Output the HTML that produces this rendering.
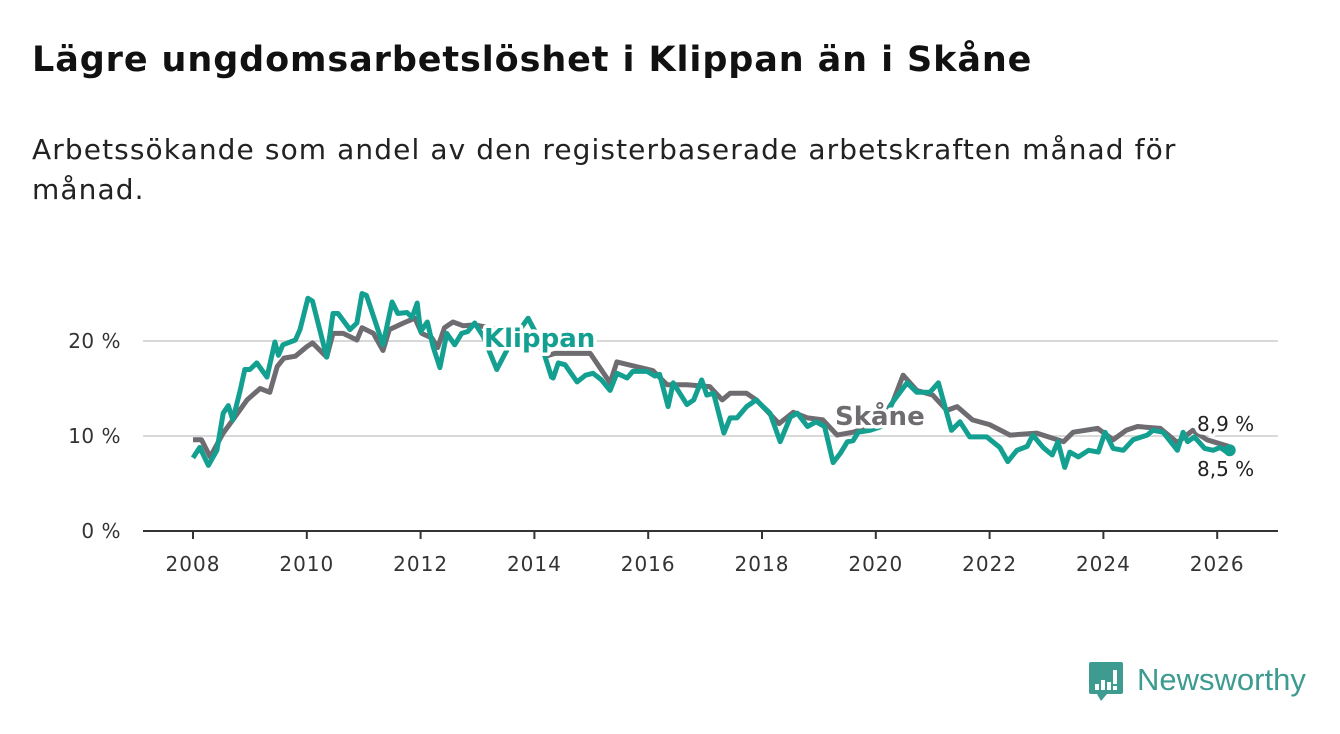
<!DOCTYPE html>
<html><head><meta charset="utf-8">
<style>
body{margin:0;background:#fff;width:1340px;height:734px;overflow:hidden;font-family:"DejaVu Sans","Liberation Sans",sans-serif;}
h1{position:absolute;left:32px;top:40px;margin:0;font-size:35px;font-weight:bold;color:#111;letter-spacing:0.9px;white-space:nowrap;}
.sub{position:absolute;left:32px;top:130px;font-size:28px;line-height:40px;color:#222;width:1280px;letter-spacing:1.1px;}
svg{position:absolute;left:0;top:0;}
</style></head><body>
<h1>Lägre ungdomsarbetslöshet i Klippan än i Skåne</h1>
<div class="sub">Arbetssökande som andel av den registerbaserade arbetskraften månad för<br>månad.</div>
<svg id="chart" width="1340" height="734"></svg>
<script>
const yTicks=[0,10,20];
const xTicks=[2008,2010,2012,2014,2016,2018,2020,2022,2024,2026];
const skaneT=[2008.0,2008.15,2008.3,2008.53,2008.7,2008.95,2009.18,2009.35,2009.48,2009.6,2009.8,2010.0,2010.1,2010.35,2010.46,2010.64,2010.88,2010.97,2011.17,2011.34,2011.45,2011.7,2011.9,2012.02,2012.2,2012.3,2012.42,2012.57,2012.75,2012.95,2013.3,2013.7,2014.0,2014.2,2014.36,2014.98,2015.33,2015.45,2015.86,2016.08,2016.33,2016.68,2017.08,2017.3,2017.44,2017.73,2017.9,2018.3,2018.55,2018.8,2019.07,2019.32,2019.6,2019.9,2020.1,2020.3,2020.48,2020.72,2021.0,2021.25,2021.43,2021.7,2022.0,2022.36,2022.83,2023.3,2023.47,2023.9,2024.17,2024.4,2024.6,2025.0,2025.3,2025.57,2025.82,2026.2];
const skaneV=[9.6,9.6,7.8,10.3,11.7,13.8,15,14.6,17.3,18.2,18.4,19.4,19.8,18.3,20.8,20.8,20.1,21.4,20.8,19,21.2,21.9,22.4,20.8,20.3,19.3,21.4,22,21.6,21.7,21.3,21,20.4,18.4,18.7,18.7,15.6,17.8,17.2,16.9,15.4,15.4,15.2,13.8,14.5,14.5,13.8,11.3,12.5,11.9,11.7,10.1,10.4,11,11.8,13.6,16.4,14.8,14.3,12.7,13.1,11.7,11.2,10.1,10.3,9.4,10.4,10.8,9.6,10.6,11,10.8,9.3,10.6,9.6,8.9];
const klipT=[2008.0,2008.12,2008.27,2008.42,2008.53,2008.62,2008.7,2008.83,2008.91,2009.0,2009.12,2009.3,2009.44,2009.5,2009.58,2009.8,2009.88,2010.02,2010.1,2010.35,2010.46,2010.55,2010.76,2010.88,2010.97,2011.05,2011.34,2011.5,2011.6,2011.76,2011.85,2011.94,2012.0,2012.12,2012.22,2012.34,2012.46,2012.6,2012.72,2012.83,2012.95,2013.1,2013.34,2013.6,2013.89,2014.1,2014.3,2014.33,2014.42,2014.54,2014.75,2014.9,2015.03,2015.18,2015.33,2015.45,2015.63,2015.73,2015.98,2016.12,2016.2,2016.35,2016.44,2016.68,2016.8,2016.94,2017.03,2017.15,2017.33,2017.44,2017.56,2017.73,2017.9,2017.98,2018.14,2018.32,2018.5,2018.62,2018.8,2018.95,2019.1,2019.25,2019.38,2019.5,2019.6,2019.69,2019.9,2020.1,2020.3,2020.55,2020.72,2020.95,2021.1,2021.33,2021.48,2021.65,2021.95,2022.18,2022.32,2022.48,2022.66,2022.76,2022.94,2023.1,2023.2,2023.32,2023.41,2023.56,2023.74,2023.91,2024.03,2024.17,2024.35,2024.52,2024.77,2024.87,2025.05,2025.3,2025.4,2025.48,2025.6,2025.78,2025.93,2026.05,2026.17,2026.22];
const klipV=[7.7,8.8,6.9,8.5,12.4,13.2,11.7,14.8,17,17,17.7,16.2,19.9,18.5,19.6,20.1,21.2,24.5,24.2,18.3,22.9,22.9,21.2,21.9,25,24.8,19.6,24.1,22.9,23,22.5,24,21,22,19.4,17.2,20.8,19.6,20.8,21,21.9,20.5,17,20,22.4,20,16.2,16.1,17.7,17.5,15.7,16.4,16.6,15.9,14.8,16.6,16.1,16.8,16.8,16.3,16.5,13.1,15.6,13.3,13.8,15.9,14.3,14.5,10.3,11.9,11.9,13.1,13.8,13.3,12.4,9.4,12,12.4,11,11.5,11,7.2,8.2,9.4,9.5,10.4,10.6,11,13.6,15.6,14.6,14.6,15.6,10.6,11.5,9.9,9.9,8.8,7.3,8.5,8.9,10.1,8.8,8,9.4,6.7,8.3,7.8,8.5,8.3,10.4,8.7,8.5,9.6,10.1,10.6,10.4,8.5,10.4,9.4,9.9,8.7,8.5,8.8,8.3,8.5];
const NS="http://www.w3.org/2000/svg";
const svg=document.getElementById('chart');
const X0=143,X1=1278,Y0=531;
const xs=t=>193+(t-2008)*56.9;
const ys=v=>Y0-v*9.5;
function el(tag,attrs,parent){const e=document.createElementNS(NS,tag);for(const k in attrs)e.setAttribute(k,attrs[k]);(parent||svg).appendChild(e);return e;}
yTicks.forEach(v=>{
  if(v>0){const g=el('line',{x1:X0,x2:X1,y1:ys(v),y2:ys(v),stroke:'#d9d9d9','stroke-width':2});
  
  }
  const t=el('text',{x:121,y:ys(v)+7,'text-anchor':'end','font-size':20,fill:'#333','letter-spacing':0.5});
  t.textContent=v+' %';
  
  
});
const ax=el('line',{x1:X0,x2:X1,y1:Y0,y2:Y0,stroke:'#333','stroke-width':2});


xTicks.forEach(y=>{
  const tk=el('line',{x1:xs(y),x2:xs(y),y1:Y0,y2:Y0+8,stroke:'#333','stroke-width':2});
  
  
  const t=el('text',{x:xs(y),y:571,'text-anchor':'middle','font-size':20,fill:'#333','letter-spacing':1});
  t.textContent=y;
  
  
});
function line(T,V,color,name){
  const d=T.map((t,i)=>(i?'L':'M')+xs(t).toFixed(1)+','+ys(V[i]).toFixed(1)).join(' ');
  const p=el('path',{d:d,fill:'none',stroke:color,'stroke-width':5,'stroke-linejoin':'round'});
  
  
}
line(skaneT,skaneV,'#6e6c70','skane-line');
line(klipT,klipV,'#14a091','klippan-line');
const dot=el('circle',{cx:xs(klipT[klipT.length-1]),cy:ys(klipV[klipV.length-1]),r:6,fill:'#14a091'});


function label(x,y,txt,color,size,weight,name){
  const t=el('text',{x:x,y:y,'font-size':size,'font-weight':weight,fill:color,stroke:'#fff','stroke-width':7,'paint-order':'stroke','stroke-linejoin':'round'});
  t.textContent=txt;
  
  
}
label(484,347,'Klippan','#14a091',26,'bold','klippan-label');
label(835,425,'Skåne','#6e6c70',26,'bold','skane-label');
label(1197,431,'8,9 %','#222',20,'normal','skane-end-value');
label(1197,476,'8,5 %','#222',20,'normal','klippan-end-value');
</script>
<div style="position:absolute;left:1089px;top:662px;width:230px;height:40px;">
<svg width="36" height="40" style="position:absolute;left:0;top:0">
<path d="M2,0 H32 a2,2 0 0 1 2,2 V30 a2,2 0 0 1 -2,2 H18 L12,39 L8,32 H2 a2,2 0 0 1 -2,-2 V2 a2,2 0 0 1 2,-2Z" fill="#3d9b90"/>
<rect x="6" y="22" width="4" height="6" fill="#fff"/><rect x="12" y="18" width="4" height="10" fill="#fff"/><rect x="18" y="20" width="4" height="8" fill="#fff"/><rect x="24" y="8" width="4" height="14" fill="#fff"/><rect x="24" y="24" width="4" height="4" fill="#fff"/>
</svg>
<span style="position:absolute;left:48px;top:0;font-family:'Liberation Sans',sans-serif;font-size:31px;color:#3d9b90;">Newsworthy</span>
</div>
</body></html>
